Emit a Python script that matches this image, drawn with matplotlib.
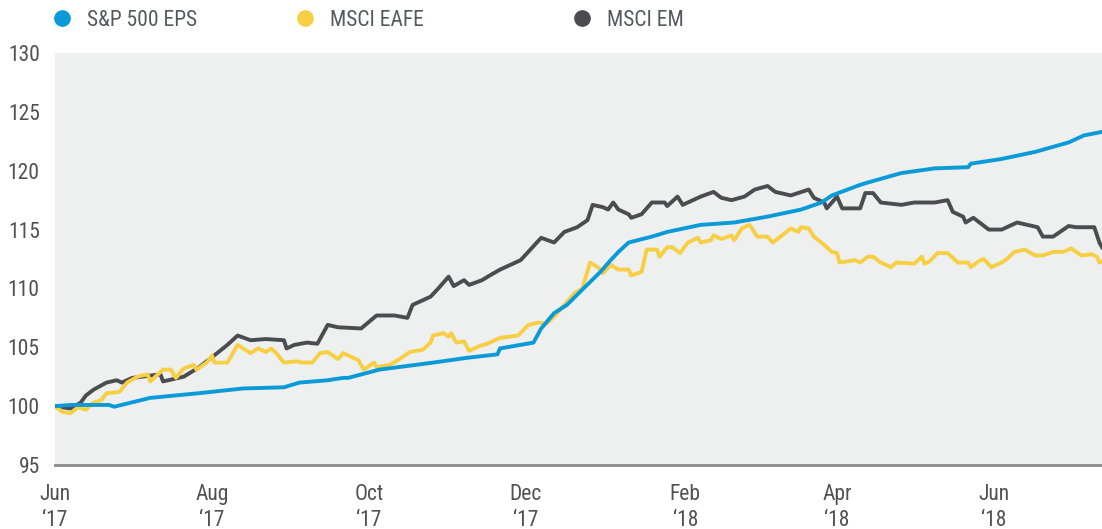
import matplotlib
matplotlib.use("Agg")
import matplotlib.pyplot as plt
from matplotlib.lines import Line2D
import pandas as pd

START = pd.Timestamp("2017-06-01")
END_DAY = 407

# S&P 500 EPS (day offset from 2017-06-01, index value)
sp_days = [0, 6, 21, 23, 37, 56, 73, 89, 95, 106, 112, 114, 126, 147, 160, 172, 173, 186,
           189, 194, 199, 205, 212, 216, 219, 223, 232, 238, 251, 264, 277, 290, 298, 302,
           313, 316, 329, 342, 355, 356, 368, 381, 394, 400, 407]
sp_vals = [100.0, 100.1, 100.1, 99.95, 100.7, 101.1, 101.5, 101.6, 102.0, 102.2, 102.4, 102.4,
           103.1, 103.7, 104.1, 104.4, 104.9, 105.4, 106.6, 107.9, 108.6, 109.9, 111.4, 112.4,
           113.1, 113.9, 114.4, 114.8, 115.4, 115.6, 116.1, 116.7, 117.3, 117.9, 118.8, 119.0,
           119.8, 120.2, 120.3, 120.6, 121.0, 121.6, 122.4, 123.0, 123.3]

# MSCI EAFE
eafe_days = [0, 3, 6, 9, 12, 15, 18, 20, 25, 28, 32, 36, 37, 42, 45, 47, 50, 54, 55, 59, 61,
             62, 67, 71, 76, 79, 82, 84, 86, 89, 94, 96, 100, 103, 106, 110, 112, 118, 120,
             124, 125, 130, 134, 138, 143, 146, 147, 151, 153, 154, 156, 159, 161, 165, 168,
             173, 180, 184, 188, 191, 194, 198, 202, 205, 208, 211, 213, 216, 219, 223, 224,
             228, 230, 234, 235, 238, 240, 243, 246, 250, 251, 255, 256, 259, 263, 264, 267,
             270, 273, 277, 279, 282, 286, 289, 290, 293, 295, 299, 302, 304, 305, 311, 313,
             316, 318, 321, 325, 327, 334, 337, 338, 340, 343, 347, 351, 355, 356, 359, 361,
             364, 368, 370, 373, 377, 381, 384, 388, 392, 395, 399, 403, 405, 406, 407]
eafe_vals = [100.0, 99.5, 99.4, 99.9, 99.7, 100.3, 100.5, 101.1, 101.2, 102.0, 102.5, 102.7,
             102.1, 103.1, 103.1, 102.4, 103.2, 103.5, 103.1, 103.7, 104.3, 103.7, 103.7,
             105.2, 104.5, 104.9, 104.6, 104.9, 104.5, 103.7, 103.8, 103.7, 103.7, 104.5,
             104.6, 104.0, 104.5, 103.9, 103.1, 103.7, 103.3, 103.5, 104.0, 104.6, 104.8,
             105.4, 106.0, 106.2, 105.9, 106.2, 105.4, 105.5, 104.7, 105.1, 105.3, 105.8,
             106.0, 106.9, 107.1, 107.0, 107.6, 108.6, 109.6, 110.0, 112.2, 111.8, 111.3,
             112.0, 111.6, 111.6, 111.1, 111.4, 113.3, 113.3, 112.7, 113.5, 113.5, 113.0,
             113.9, 114.3, 113.9, 114.1, 114.5, 114.2, 114.5, 114.1, 115.1, 115.4, 114.4,
             114.4, 113.9, 114.4, 115.1, 114.8, 115.2, 115.1, 114.4, 113.7, 113.1, 113.0,
             112.2, 112.4, 112.2, 112.7, 112.7, 112.2, 111.8, 112.2, 112.1, 112.7, 112.1,
             112.3, 113.0, 113.0, 112.2, 112.2, 111.8, 112.3, 112.5, 111.8, 112.2, 112.5,
             113.1, 113.3, 112.8, 112.8, 113.1, 113.1, 113.4, 112.8, 112.9, 112.7, 112.2, 112.3]

# MSCI EM
em_days = [0, 6, 10, 12, 15, 20, 24, 26, 30, 41, 42, 50, 56, 63, 67, 71, 76, 82, 89, 90, 93,
           98, 102, 106, 110, 119, 125, 132, 137, 139, 146, 149, 153, 155, 159, 161, 166, 169,
           173, 181, 189, 194, 198, 203, 207, 209, 213, 215, 217, 219, 223, 224, 228, 232,
           237, 238, 242, 244, 251, 256, 259, 263, 268, 272, 277, 280, 286, 293, 295, 299,
           300, 304, 306, 313, 315, 318, 321, 329, 334, 342, 347, 349, 353, 354, 357, 363,
           368, 374, 382, 384, 388, 394, 397, 404, 406, 407]
em_vals = [100.0, 99.8, 100.3, 100.9, 101.4, 102.0, 102.2, 102.0, 102.4, 102.7, 102.1, 102.5,
           103.3, 104.5, 105.2, 106.0, 105.6, 105.7, 105.6, 104.9, 105.2, 105.4, 105.3, 106.9,
           106.7, 106.6, 107.7, 107.7, 107.5, 108.6, 109.3, 110.0, 111.0, 110.2, 110.7, 110.3,
           110.7, 111.1, 111.6, 112.4, 114.3, 113.9, 114.8, 115.2, 115.8, 117.1, 116.9, 116.7,
           117.3, 116.7, 116.3, 116.0, 116.3, 117.3, 117.3, 117.0, 117.8, 117.1, 117.8, 118.2,
           117.7, 117.5, 117.8, 118.4, 118.7, 118.2, 117.9, 118.4, 117.7, 117.3, 116.8, 117.8,
           116.8, 116.8, 118.1, 118.1, 117.3, 117.1, 117.3, 117.3, 117.5, 116.5, 116.1, 115.6,
           116.0, 115.0, 115.0, 115.6, 115.2, 114.4, 114.4, 115.3, 115.2, 115.2, 113.9, 113.5]

series_names = ["S&P 500 EPS", "MSCI EAFE", "MSCI EM"]
series_colors = ["#0b9ad8", "#f6cf45", "#4b4b50"]

tick_dates = ["2017-06-01", "2017-08-01", "2017-10-01", "2017-12-01",
              "2018-02-01", "2018-04-01", "2018-06-01"]
tick_labels = ["Jun\n\u201817", "Aug\n\u201817", "Oct\n\u201817", "Dec\n\u201817",
               "Feb\n\u201818", "Apr\n\u201818", "Jun\n\u201818"]
y_ticks = [95, 100, 105, 110, 115, 120, 125, 130]

plt.rcParams["font.family"] = ["Liberation Sans Narrow", "Roboto Condensed", "DejaVu Sans"]

W, H = 1102, 529
fig = plt.figure(figsize=(W / 100, H / 100), dpi=100)
ax = fig.add_axes([55 / W, 1 - 465 / H, 1 - 55 / W, (465 - 53) / H])
ax.set_facecolor("#eef0ef")


def to_dates(days):
    return START + pd.to_timedelta(days, unit="D")


data = [(sp_days, sp_vals), (eafe_days, eafe_vals), (em_days, em_vals)]
order = [2, 1, 0]  # draw EM first, then EAFE, then S&P on top
for i in order:
    d, v = data[i]
    ax.plot(to_dates(d), v, color=series_colors[i], lw=2.8, solid_joinstyle="round",
            zorder=3 + (2 - i))

ax.set_xlim(START, START + pd.Timedelta(days=END_DAY))
ax.set_ylim(95, 130)
ax.set_yticks(y_ticks)
ax.set_yticklabels([str(t) for t in y_ticks])
ax.set_xticks(pd.to_datetime(tick_dates))
ax.set_xticklabels(tick_labels, linespacing=1.3)

for s in ["top", "right", "left"]:
    ax.spines[s].set_visible(False)
ax.spines["bottom"].set_color("#8a8a8a")
ax.spines["bottom"].set_linewidth(2)
ax.spines["bottom"].set_zorder(5)

ax.tick_params(axis="both", length=0, labelsize=15.5, labelcolor="#505055")
ax.tick_params(axis="y", pad=11)
ax.tick_params(axis="x", pad=14)

# Legend: three single-entry legends at top
leg_pos = [(51 / W), (294 / W), (571 / W)]
for i in range(3):
    h = Line2D([], [], marker="o", linestyle="none", markersize=11,
               markerfacecolor=series_colors[i], markeredgecolor=series_colors[i])
    lg = fig.legend(handles=[h], labels=[series_names[i]], loc="center left",
                    bbox_to_anchor=(leg_pos[i], 1 - 20 / H), frameon=False,
                    fontsize=15.5, handletextpad=0.65, handlelength=1.0,
                    borderaxespad=0, borderpad=0)
    for t in lg.get_texts():
        t.set_color("#55585e")

fig.savefig("out.png", dpi=100)
